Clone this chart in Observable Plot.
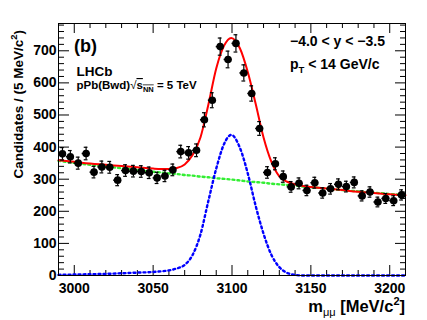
<!DOCTYPE html>
<html>
<head>
<meta charset="utf-8">
<script src="https://cdn.jsdelivr.net/npm/d3@7"></script>
<script src="https://cdn.jsdelivr.net/npm/@observablehq/plot@0.6"></script>
<style>
  html, body { margin: 0; padding: 0; background: white; }
  #chart { width: 427px; height: 320px; }
</style>
</head>
<body>
<div id="chart"></div>
<script>
// ---- Data ----
// bin centres (MeV/c^2)
const binMass = [2992.5, 2997.5, 3002.5, 3007.5, 3012.5, 3017.5, 3022.5, 3027.5, 3032.5, 3037.5,
  3042.5, 3047.5, 3052.5, 3057.5, 3062.5, 3067.5, 3072.5, 3077.5, 3082.5, 3087.5,
  3092.5, 3097.5, 3102.5, 3107.5, 3112.5, 3117.5, 3122.5, 3127.5, 3132.5, 3137.5,
  3142.5, 3147.5, 3152.5, 3157.5, 3162.5, 3167.5, 3172.5, 3177.5, 3182.5, 3187.5,
  3192.5, 3197.5, 3202.5, 3207.5];
// candidates per 5 MeV/c^2
const binCounts = [379, 370, 350, 380, 322, 338, 337, 297, 327, 325,
  324, 320, 304, 310, 329, 386, 382, 390, 485, 546,
  713, 673, 723, 631, 567, 458, 321, 348, 308, 276,
  287, 265, 289, 257, 270, 284, 277, 290, 248, 260,
  229, 240, 233, 251];

// fit curves
const curveMass = [2990, 3000, 3010, 3020, 3030, 3040, 3050, 3055, 3060, 3065, 3070, 3075, 3080,
  3085, 3090, 3095, 3099.5, 3105, 3110, 3115, 3120, 3125, 3130, 3135, 3140, 3145, 3150,
  3160, 3170, 3180, 3190, 3200, 3210];
const curveTotal = [359, 354, 349, 345, 341, 337, 333, 332, 332, 335, 346, 375, 430,
  532, 645, 716, 740, 708, 634, 535, 430, 354, 309, 292, 284, 279, 276,
  271, 266, 261, 257, 253, 250];
const curveSignal = [2, 3, 4, 5, 7, 9, 11, 13, 16, 22, 33, 64, 128,
  232, 333, 410, 438, 398, 318, 217, 130, 64, 26, 8, 2, 0, 0,
  0, 0, 0, 0, 0, 0];
const curveBkg = [357, 351, 345, 340, 334, 329, 323, 321, 318, 316, 313, 311, 308,
  306, 303, 301, 299, 296, 293, 291, 289, 286, 284, 282, 280, 277, 275,
  271, 266, 262, 258, 254, 250];

// axis ticks
const xMajorTicks = [3000, 3050, 3100, 3150, 3200];
const xMinorTicks = [3010, 3020, 3030, 3040, 3060, 3070, 3080, 3090, 3110, 3120, 3130, 3140, 3160, 3170, 3180, 3190];
const yMajorTicks = [0, 100, 200, 300, 400, 500, 600, 700];
const yMinorTicks = d3.range(20, 785, 20).filter(v => v % 100 !== 0);

// ---- build tables ----
const points = binMass.map((m, i) => ({m, n: binCounts[i]}));
const curves = curveMass.map((m, i) => ({m, total: curveTotal[i], sig: curveSignal[i], bkg: curveBkg[i]}));

const W = 427, H = 320;
const mL = 58, mR = 22, mT = 23, mB = 45;
const fw = W - mL - mR, fh = H - mT - mB;
const font = "'Liberation Sans', Arial, Helvetica, sans-serif";

const err = d => Math.sqrt(d.n);

const chart = Plot.plot({
  width: W, height: H,
  marginLeft: mL, marginRight: mR, marginTop: mT, marginBottom: mB,
  x: {domain: [2990, 3210], label: null},
  y: {domain: [0, 785], label: null},
  style: {fontFamily: font, background: "white", color: "black"},
  marks: [
    // ticks (inward, ROOT style)
    Plot.ruleX(xMajorTicks, {insetTop: fh - 10, stroke: "black"}),
    Plot.ruleX(xMinorTicks, {insetTop: fh - 5, stroke: "black"}),
    Plot.ruleX(xMajorTicks, {insetBottom: fh - 10, stroke: "black"}),
    Plot.ruleX(xMinorTicks, {insetBottom: fh - 5, stroke: "black"}),
    Plot.ruleY(yMajorTicks, {insetRight: fw - 11, stroke: "black"}),
    Plot.ruleY(yMinorTicks, {insetRight: fw - 6, stroke: "black"}),
    Plot.ruleY(yMajorTicks, {insetLeft: fw - 10, stroke: "black"}),
    Plot.ruleY(yMinorTicks, {insetLeft: fw - 5, stroke: "black"}),
    Plot.axisX(xMajorTicks, {tickSize: 0, tickPadding: 8, fontSize: 14, fontWeight: "bold", label: null, tickFormat: d => String(d)}),
    Plot.axisY(yMajorTicks, {tickSize: 0, tickPadding: 2, fontSize: 14, fontWeight: "bold", label: null, tickFormat: d => String(d)}),
    // fit components
    Plot.line(curves, {x: "m", y: "bkg", stroke: "#33ee33", strokeWidth: 2.4, strokeDasharray: "2,3", curve: "monotone-x"}),
    Plot.line(curves, {x: "m", y: "sig", stroke: "#0000ff", strokeWidth: 2.4, strokeDasharray: "2,3", curve: "monotone-x"}),
    Plot.line(curves, {x: "m", y: "total", stroke: "#ff0000", strokeWidth: 2, curve: "monotone-x"}),
    // data points with error bars
    Plot.ruleX(points, {x: "m", y1: d => d.n - err(d), y2: d => d.n + err(d), stroke: "black", strokeWidth: 1.2}),
    Plot.ruleY(points, {y: d => d.n + err(d), x1: d => d.m - 1.2, x2: d => d.m + 1.2, stroke: "black", strokeWidth: 1.2}),
    Plot.ruleY(points, {y: d => d.n - err(d), x1: d => d.m - 1.2, x2: d => d.m + 1.2, stroke: "black", strokeWidth: 1.2}),
    Plot.ruleY(points, {y: "n", x1: d => d.m - 2.5, x2: d => d.m + 2.5, stroke: "black", strokeWidth: 1.5}),
    Plot.dot(points, {x: "m", y: "n", r: 3.8, fill: "black", stroke: "none"}),
    Plot.frame({stroke: "black"})
  ]
});

const svg = d3.select(chart);
function addText(x, y, size, anchor) {
  return svg.append("text")
    .attr("x", x).attr("y", y)
    .attr("font-family", font).attr("font-weight", "bold")
    .attr("font-size", size).attr("text-anchor", anchor || "start")
    .attr("fill", "black");
}

// y-axis title
const yt = svg.append("text")
  .attr("transform", "translate(23,30) rotate(-90)")
  .attr("font-family", font).attr("font-weight", "bold")
  .attr("font-size", 13.5).attr("text-anchor", "end").attr("fill", "black");
yt.append("tspan").text("Candidates / (5 MeV/c");
yt.append("tspan").attr("font-size", 9.5).attr("dy", -6).text("2");
yt.append("tspan").attr("dy", 6).text(")");

// x-axis title
const xt = addText(405, 312, 16.5, "end");
xt.append("tspan").text("m");
xt.append("tspan").attr("font-size", 11).attr("font-weight", "normal").attr("dy", 4).text("μμ");
xt.append("tspan").attr("dy", -4).text(" [MeV/c");
xt.append("tspan").attr("font-size", 11).attr("dy", -7).text("2");
xt.append("tspan").attr("dy", 7).text("]");

// annotations
addText(74, 52, 18).text("(b)");
addText(76.5, 75.5, 13.5).text("LHCb");
const ss = addText(76.5, 89, 11.5);
ss.append("tspan").text("pPb(Bwd)");
ss.append("tspan").attr("font-weight", "normal").text("√");
ss.append("tspan").attr("style", "text-decoration: overline").text("s");
ss.append("tspan").attr("font-size", 7.5).attr("dy", 2.5).attr("style", "text-decoration: overline").text("NN");
ss.append("tspan").attr("dy", -2.5).text(" = 5 TeV");

addText(290, 45.5, 14).text("−4.0 < y < −3.5");
const pt = addText(290, 69.3, 14);
pt.append("tspan").text("p");
pt.append("tspan").attr("font-size", 9.5).attr("dy", 4).text("T");
pt.append("tspan").attr("dy", -4).text(" < 14 GeV/c");

document.getElementById("chart").appendChild(chart);
</script>
</body>
</html>
